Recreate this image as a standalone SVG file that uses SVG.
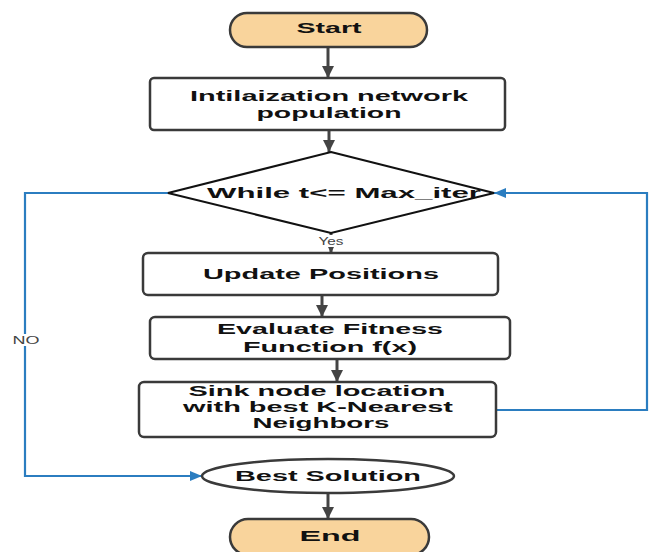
<svg xmlns="http://www.w3.org/2000/svg" width="651" height="552" viewBox="0 0 651 552">
<defs>
<style>
.t{font-family:"Liberation Sans",Arial,sans-serif;font-weight:bold;font-size:15px;fill:#111;text-anchor:middle}
.s{font-family:"Liberation Sans",Arial,sans-serif;font-size:11px;fill:#444;text-anchor:middle}
.box{fill:#fff;stroke:#3a3a3a;stroke-width:2.5}
.term{fill:#f9d49c;stroke:#3a3a3a;stroke-width:2.5}
.g{fill:none;stroke:#444;stroke-width:3}
.b{fill:none;stroke:#2b7dc0;stroke-width:2.2}
</style>
<marker id="ag" markerUnits="userSpaceOnUse" markerWidth="14" markerHeight="12" refX="12" refY="6" orient="auto"><path d="M0,0 L12,6 L0,12 z" fill="#444"/></marker>
<marker id="ab" markerUnits="userSpaceOnUse" markerWidth="14" markerHeight="12" refX="12" refY="5" orient="auto"><path d="M0,0 L12,5 L0,10 z" fill="#2b7dc0"/></marker>
</defs>
<rect width="651" height="552" fill="#fff"/>
<g id="connectors">
<line class="g" x1="328" y1="47" x2="328" y2="78" marker-end="url(#ag)"/>
<line class="g" x1="329" y1="131" x2="329" y2="152" marker-end="url(#ag)"/>
<line class="g" x1="331" y1="232" x2="331" y2="253" stroke-width="2" marker-end="url(#ag)"/>
<line class="g" x1="322" y1="295" x2="322" y2="317" marker-end="url(#ag)"/>
<line class="g" x1="337" y1="359" x2="337" y2="382" marker-end="url(#ag)"/>
<line class="g" x1="328" y1="493" x2="328" y2="519" marker-end="url(#ag)"/>
<polyline class="b" points="496,410 647,410 647,193 494,193" marker-end="url(#ab)"/>
<polyline class="b" points="168,193 25,193 25,476 202,476" marker-end="url(#ab)"/>
<rect x="312" y="235" width="38" height="12" fill="#fff"/>
<text class="s" x="331" y="245" textLength="25" lengthAdjust="spacingAndGlyphs">Yes</text>
<rect x="10" y="334" width="32" height="12" fill="#fff"/>
<text class="s" x="26" y="344" textLength="27" lengthAdjust="spacingAndGlyphs">NO</text>
</g>
<g id="start">
<rect class="term" x="230" y="13" width="197" height="34" rx="17"/>
<text class="t" x="329" y="33" textLength="65" lengthAdjust="spacingAndGlyphs">Start</text>
</g>
<g id="init">
<rect class="box" x="150" y="78" width="355" height="52" rx="4"/>
<text class="t" x="329" y="101" textLength="278" lengthAdjust="spacingAndGlyphs">Intilaization network</text>
<text class="t" x="329" y="118" textLength="145" lengthAdjust="spacingAndGlyphs">population</text>
</g>
<g id="while">
<polygon points="331,152 494,193 331,233 168,193" fill="#fff" stroke="#111" stroke-width="2"/>
<text class="t" x="344" y="198" textLength="274" lengthAdjust="spacingAndGlyphs">While t&lt;= Max_iter</text>
</g>
<g id="update">
<rect class="box" x="143" y="253" width="355" height="42" rx="5"/>
<text class="t" x="321" y="279" textLength="236" lengthAdjust="spacingAndGlyphs">Update Positions</text>
</g>
<g id="evaluate">
<rect class="box" x="150" y="317" width="360" height="42" rx="5"/>
<text class="t" x="330" y="334" textLength="226" lengthAdjust="spacingAndGlyphs">Evaluate Fitness</text>
<text class="t" x="330" y="352" textLength="174" lengthAdjust="spacingAndGlyphs">Function f(x)</text>
</g>
<g id="sink">
<rect class="box" x="139" y="382" width="357" height="55" rx="5"/>
<text class="t" x="317" y="396" textLength="257" lengthAdjust="spacingAndGlyphs">Sink node location</text>
<text class="t" x="318" y="412" textLength="270" lengthAdjust="spacingAndGlyphs">with best K-Nearest</text>
<text class="t" x="321" y="428" textLength="137" lengthAdjust="spacingAndGlyphs">Neighbors</text>
</g>
<g id="best">
<ellipse cx="328" cy="476" rx="126" ry="17" fill="#fff" stroke="#3a3a3a" stroke-width="2.5"/>
<text class="t" x="328" y="481" textLength="186" lengthAdjust="spacingAndGlyphs">Best Solution</text>
</g>
<g id="end">
<rect class="term" x="230" y="519" width="199" height="36" rx="18"/>
<text class="t" x="330" y="541" textLength="61" lengthAdjust="spacingAndGlyphs">End</text>
</g>
</svg>
